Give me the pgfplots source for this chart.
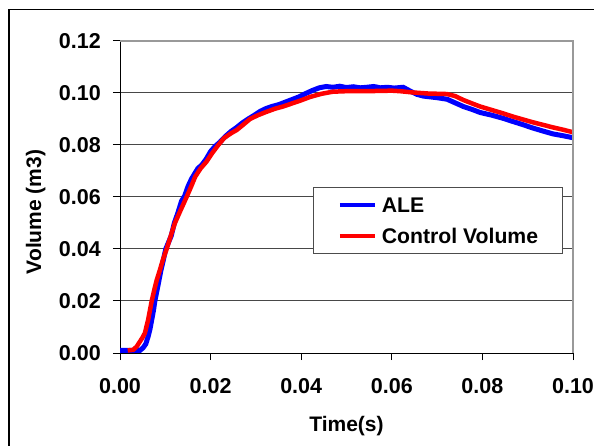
\documentclass[border=0pt]{standalone}
\usepackage{fontspec}
\setmainfont{Liberation Sans}
\usepackage{pgfplots}
\pgfplotsset{compat=1.18}
\begin{document}
\begin{tikzpicture}
\useasboundingbox (0,0) rectangle (594bp,446bp);
\fill[white] (0,0) rectangle (594bp,446bp);
\draw[line width=1.5bp] (9bp,0) -- (9bp,436.5bp) -- (594bp,436.5bp);
\begin{axis}[
  at={(120bp,93bp)}, anchor=south west,
  scale only axis, width=453bp, height=312bp,
  xmin=0, xmax=0.1, ymin=0, ymax=0.12,
  xtick={0,0.02,0.04,0.06,0.08,0.1},
  ytick={0,0.02,0.04,0.06,0.08,0.1,0.12},
  axis x line*=bottom, axis y line*=left,
  xtick pos=bottom, ytick pos=left,
  axis line style={black, line width=1bp, -},
  tick align=outside, major tick length=7bp,
  tick style={black, line width=1bp},
  ymajorgrids, major grid style={black!72, line width=1bp},
  scaled ticks=false,
  /pgf/number format/assume math mode=true,
  /pgf/number format/fixed, /pgf/number format/fixed zerofill, /pgf/number format/precision=2,
  ticklabel style={font=\fontsize{21.5bp}{24bp}\selectfont\bfseries, inner sep=0pt},
  xticklabel style={anchor=north, yshift=-18bp},
  yticklabel style={anchor=east, xshift=-12bp},
  xlabel={Time(s)}, ylabel={Volume (m3)},
  label style={font=\fontsize{21bp}{25bp}\selectfont\bfseries, inner sep=0pt},
  xlabel style={at={(axis description cs:0.5,-0.234)}, anchor=center},
  ylabel style={at={(axis description cs:-0.186,0.452)}, anchor=center},
  clip=false,
  legend cell align=left,
  legend image code/.code={\draw[#1, line width=4bp] (0bp,0bp) -- (35bp,0bp);},
  legend style={at={(axis description cs:0.426,0.532)}, anchor=north west,
    draw=black!70, line width=1bp, fill=white,
    inner xsep=0bp, inner ysep=0bp,
    minimum width=249bp, minimum height=66bp,
    column sep=5bp, row sep=16.7bp,
    font=\fontsize{21.2bp}{25bp}\selectfont\bfseries,
    nodes={inner sep=0pt, minimum width=0pt, minimum height=0pt, text height=15bp, text depth=0bp}},
]
\addplot[blue, line width=5bp] coordinates {
(0,0.001) (0.0044,0.001) (0.0051,0.002) (0.0057,0.0035) (0.0062,0.0063)
(0.0066,0.0090) (0.0070,0.0127) (0.0074,0.0165) (0.0077,0.0200) (0.0085,0.0270)
(0.0090,0.0315) (0.0096,0.0360) (0.0101,0.0400) (0.0107,0.0425) (0.0113,0.0450)
(0.0120,0.0500) (0.0128,0.0540) (0.0136,0.0585) (0.0143,0.0605) (0.0150,0.0640)
(0.0158,0.0670) (0.0165,0.0690) (0.0172,0.0710) (0.0180,0.0722) (0.0190,0.0745)
(0.0200,0.0775) (0.0210,0.0795) (0.0220,0.0810) (0.0232,0.0832) (0.0245,0.0852)
(0.0258,0.0868) (0.0270,0.0885) (0.0283,0.0900) (0.0297,0.0915) (0.0310,0.0930)
(0.0322,0.0940) (0.0335,0.0948) (0.0350,0.0955) (0.0365,0.0965) (0.0380,0.0975)
(0.0395,0.0985) (0.0410,0.0998) (0.0425,0.1010) (0.0440,0.1020) (0.0455,0.1025)
(0.0470,0.1022) (0.0485,0.1026) (0.0500,0.1021) (0.0515,0.1024) (0.0530,0.1020)
(0.0545,0.1022) (0.0560,0.1025) (0.0575,0.1020) (0.0590,0.1022) (0.0605,0.1019)
(0.0625,0.1022) (0.0640,0.1008) (0.0655,0.0995) (0.0670,0.0988) (0.0700,0.0982)
(0.0722,0.0976) (0.0740,0.0962) (0.0758,0.0948) (0.0780,0.0935) (0.0795,0.0925)
(0.0820,0.0915) (0.0845,0.0903) (0.0868,0.0890) (0.0890,0.0878) (0.0910,0.0866)
(0.0935,0.0853) (0.0955,0.0843) (0.0980,0.0835) (0.1000,0.0828)
};
\addlegendentry{ALE}
\addplot[red, line width=4.5bp] coordinates {
(0.0017,0.001) (0.0029,0.0012) (0.0037,0.0025) (0.0044,0.0044) (0.0050,0.0060)
(0.0055,0.0077) (0.0062,0.0127) (0.0070,0.0200) (0.0076,0.0245) (0.0081,0.0280)
(0.0088,0.0319) (0.0095,0.0360) (0.0103,0.0400) (0.0112,0.0450) (0.0121,0.0499)
(0.0134,0.0550) (0.0147,0.0600) (0.0157,0.0640) (0.0166,0.0678) (0.0178,0.0710)
(0.0191,0.0736) (0.0204,0.0770) (0.0217,0.0800) (0.0230,0.0827) (0.0245,0.0845)
(0.0258,0.0858) (0.0272,0.0878) (0.0287,0.0900) (0.0305,0.0915) (0.0324,0.0928)
(0.0343,0.0940) (0.0360,0.0948) (0.0380,0.0960) (0.0397,0.0970) (0.0420,0.0985)
(0.0445,0.0997) (0.0470,0.1005) (0.0500,0.1007) (0.0540,0.1007) (0.0574,0.1008)
(0.0600,0.1009) (0.0618,0.1007) (0.0647,0.1002) (0.0680,0.0998) (0.0722,0.0996)
(0.0740,0.0988) (0.0758,0.0973) (0.0780,0.0958) (0.0795,0.0948) (0.0820,0.0935)
(0.0845,0.0922) (0.0868,0.0909) (0.0890,0.0898) (0.0910,0.0888) (0.0935,0.0877)
(0.0955,0.0868) (0.0980,0.0858) (0.1000,0.0849)
};
\addlegendentry{Control Volume}
\draw[black!40, line width=1.3bp] (rel axis cs:0,1) -- (rel axis cs:1,1) -- (rel axis cs:1,0);
\end{axis}
\end{tikzpicture}
\end{document}
